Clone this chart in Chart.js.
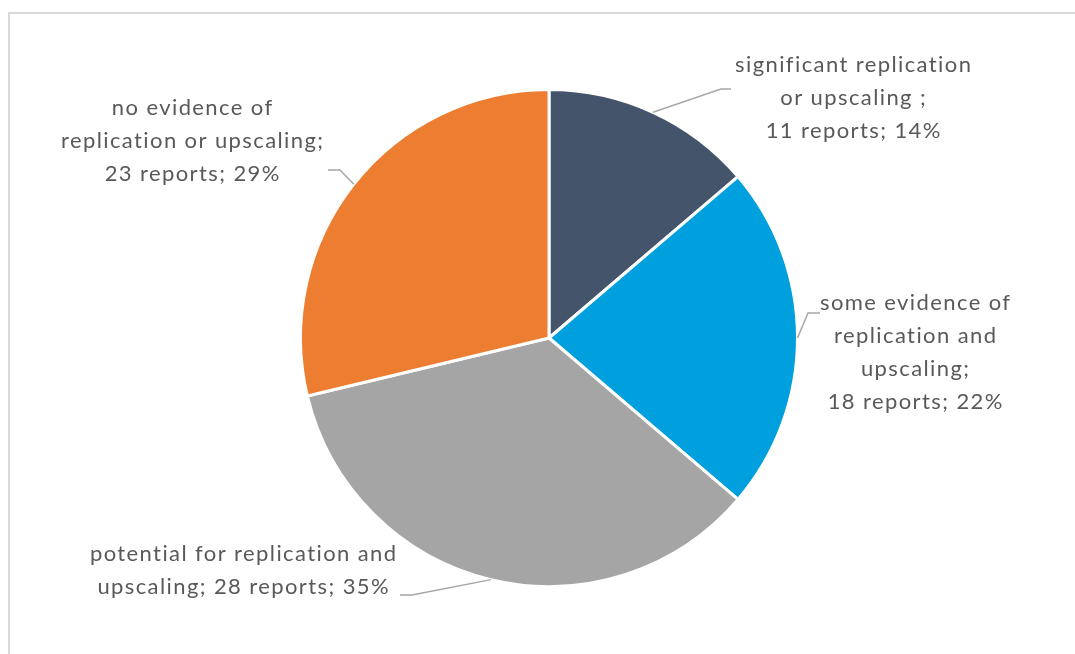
<!DOCTYPE html>
<html>
<head>
<meta charset="utf-8">
<script src="https://cdn.jsdelivr.net/npm/chart.js@4"></script>
<style>
  body { margin: 0; background: #fff; }
  #wrap { position: relative; width: 1075px; height: 654px; overflow: hidden; }
  #frame { position: absolute; left: 8px; top: 12px; width: 1200px; height: 800px; border: 2px solid #D9D9D9; box-sizing: border-box; }
  canvas { position: absolute; left: 0; top: 0; }
</style>
</head>
<body>
<div id="wrap">
  <div id="frame"></div>
  <canvas id="pieChart" width="1075" height="654"></canvas>
</div>
<script>
// data
const categories = [
  "significant replication or upscaling",
  "some evidence of replication and upscaling",
  "potential for replication and upscaling",
  "no evidence of replication or upscaling"
];
const reports = [11, 18, 28, 23];
const percents = ["14%", "22%", "35%", "29%"];
const colors = ["#44546A", "#009FDD", "#A5A5A5", "#ED7D31"];

// label text lines, as in the original
const labelLines = [
  ["significant replication", "or upscaling ;", reports[0] + " reports; " + percents[0]],
  ["some evidence of", "replication and", "upscaling;", reports[1] + " reports; " + percents[1]],
  ["potential for replication and", "upscaling; " + reports[2] + " reports; " + percents[2]],
  ["no evidence of", "replication or upscaling;", reports[3] + " reports; " + percents[3]]
];

// where each label sits: text centre x, first line y, leader elbow and end
const labelLayout = [
  { x: 853, y: 65, elbow: [721, 89], end: [731, 89] },
  { x: 915, y: 303, elbow: [808, 313], end: [820, 313] },
  { x: 243, y: 554, elbow: [412, 595], end: [400, 595] },
  { x: 192, y: 108, elbow: [340, 170], end: [328, 170] }
];

const FONT = "22px Lato, 'Open Sans', sans-serif";
const SPACING = 1.4;
const LINE_H = 33;

const labelPlugin = {
  id: "pieLabels",
  afterDatasetsDraw(chart) {
    const ctx = chart.ctx;
    const arcs = chart.getDatasetMeta(0).data;
    ctx.save();
    arcs.forEach((arc, i) => {
      const p = arc.getProps(["x", "y", "startAngle", "endAngle", "outerRadius"], true);
      const mid = (p.startAngle + p.endAngle) / 2;
      const sx = p.x + Math.cos(mid) * p.outerRadius;
      const sy = p.y + Math.sin(mid) * p.outerRadius;
      const l = labelLayout[i];
      ctx.strokeStyle = "#A6A6A6";
      ctx.lineWidth = 1.5;
      ctx.beginPath();
      ctx.moveTo(sx, sy);
      ctx.lineTo(l.elbow[0], l.elbow[1]);
      ctx.lineTo(l.end[0], l.end[1]);
      ctx.stroke();

      ctx.fillStyle = "#595959";
      ctx.font = FONT;
      ctx.letterSpacing = SPACING + "px";
      ctx.textAlign = "center";
      ctx.textBaseline = "middle";
      labelLines[i].forEach((t, j) => {
        // half the trailing spacing back so the line stays centred
        ctx.fillText(t, l.x + SPACING / 2, l.y + j * LINE_H);
      });
    });
    ctx.restore();
  }
};

const ctx = document.getElementById("pieChart").getContext("2d");
const myChart = new Chart(ctx, {
  type: "pie",
  data: {
    labels: categories,
    datasets: [{
      data: reports,
      backgroundColor: colors,
      borderColor: "#ffffff",
      borderWidth: 3
    }]
  },
  options: {
    responsive: false,
    animation: false,
    layout: { padding: { left: 299, right: 276, top: 88, bottom: 66 } },
    plugins: {
      legend: { display: false },
      tooltip: { enabled: false }
    }
  },
  plugins: [labelPlugin]
});
</script>
</body>
</html>
